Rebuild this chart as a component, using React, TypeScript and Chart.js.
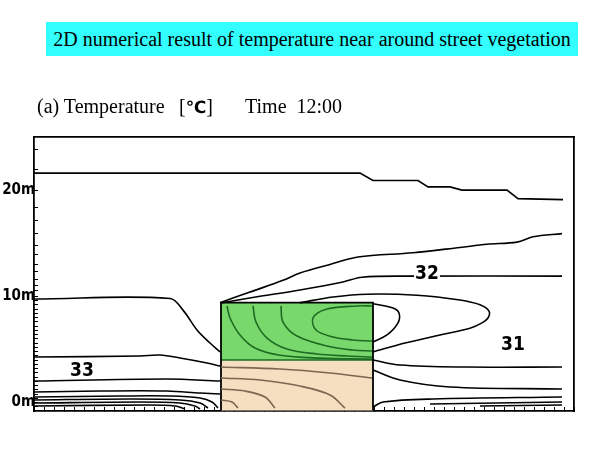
import React, { useEffect, useRef } from 'react';
import { Chart, registerables } from 'chart.js';

Chart.register(...registerables);

// ---- Data (x: distance along street [m], y: height [m]) ----
const contourUpper = [[0, 21.6], [32.6, 21.6], [33.9, 20.9], [38.4, 20.9], [39.4, 20.3], [41.6, 20.3], [42.8, 20.0], [47.3, 20.0], [48.4, 19.2], [52.9, 19.1]];
const contourRising = [[18.6, 9.4], [21.6, 10.4], [24.9, 11.5], [26.6, 12.2], [29.6, 13.0], [32.4, 13.7], [37.9, 14.1], [42.6, 14.6], [45.3, 14.9], [48.3, 15.1], [49.9, 15.6], [52.8, 15.9]];
const contour32 = [[18.8, 9.4], [22.6, 10.0], [26.6, 10.6], [30.9, 11.35], [32.8, 11.8], [37.6, 11.9], [52.8, 11.9]];
const contourOuterLoop = [[26.6, 9.4], [29.9, 9.93], [33.3, 10.2], [38.3, 10.1], [42.6, 9.65], [44.6, 9.2], [45.5, 8.6], [45.4, 7.96], [44.8, 7.5], [43.6, 7.0], [40.6, 6.36], [37.1, 5.6], [33.9, 4.76]];
const contourInnerLoop = [[33.9, 9.3], [35.9, 8.9], [36.5, 8.43], [36.4, 7.5], [35.3, 6.36], [33.9, 5.7]];
const contourRight1 = [[33.9, 4.0], [36.6, 3.53], [43.3, 3.34], [52.8, 3.34]];
const contourRight2 = [[33.9, 3.06], [36.6, 2.12], [41.6, 1.46], [52.8, 1.27]];
const contourRight3 = [[33.9, -0.42], [34.9, 0.05], [39.9, 0.33], [52.8, 0.52]];
const contourRight4 = [[39.6, -0.14], [52.8, 0.05]];
const contourRight5 = [[44.6, -0.33], [52.8, -0.24]];
const contourLeft1 = [[0, 9.75], [13.6, 9.8], [14.9, 8.7], [16.3, 6.83], [17.6, 5.6], [18.6, 4.76]];
const contourLeft2 = [[0, 4.28], [10.6, 4.38], [12.6, 4.47], [14.6, 4.19], [17.3, 3.72], [18.6, 3.43]];
const contourLeft3 = [[0, 2.02], [13.3, 2.21], [18.6, 2.02]];
const contourLeft4 = [[0, 0.99], [6.6, 1.08], [13.3, 1.08], [16.6, 0.89], [18.6, 0.8]];
const contourLeft5 = [[0, 0.52], [8.6, 0.61], [13.6, 0.61], [16.6, 0.42], [17.8, 0.05], [18.4, -0.52]];
const contourLeft6 = [[0, 0.24], [9.6, 0.33], [14.6, 0.24], [16.6, -0.05], [17.4, -0.52]];
const contourLeft7 = [[0, -0.05], [10.6, 0.05], [14.6, -0.05], [16.1, -0.33], [16.6, -0.6]];
const contourLeft8 = [[0, -0.33], [11.6, -0.24], [14.1, -0.33], [15.1, -0.6]];

const canopyA = [[19.3, 9.09], [19.6, 7.96], [20.6, 6.36], [22.1, 5.13], [24.6, 4.45], [28.6, 4.18], [33.8, 4.08]];
const canopyB = [[21.9, 9.09], [22.2, 7.58], [23.3, 6.07], [25.3, 5.04], [28.3, 4.57], [31.3, 4.38], [33.8, 4.28]];
const canopyC = [[24.7, 9.09], [24.9, 7.58], [26.3, 6.26], [29.3, 5.32], [31.9, 4.94], [33.8, 4.85]];
const canopyD = [[33.8, 9.09], [32.3, 9.09], [29.3, 8.8], [27.9, 7.96], [28.2, 6.83], [29.9, 6.17], [31.9, 5.89], [33.8, 5.79]];

const soil1 = [[18.7, 3.34], [24.6, 3.15], [29.6, 2.78], [33.8, 2.31]];
const soil2 = [[18.7, 2.31], [22.6, 2.12], [26.6, 1.55], [29.6, 0.71], [31.1, -0.52]];
const soil3 = [[18.7, 1.27], [21.1, 1.08], [23.1, 0.52], [24.1, -0.52]];
const soil4 = [[18.7, 0.24], [19.8, 0.05], [20.4, -0.52]];

const canopyLeft = 18.7;
const canopyRight = 33.9;
const canopyTop = 9.4;
const canopyBase = 4.0;
const groundLevel = -0.75;

const isothermLabels = ['33', '32', '31'];
const isothermLabelX = [4.8, 39.3, 47.9];
const isothermLabelY = [2.97, 12.1, 5.41];

const yTickValues = [23.8, 21.9, 20, 18.4, 17.1, 15.9, 14.8, 13.9, 13.0, 12.3, 11.6, 11.0, 10.5, 10, 9.6, 9.2, 8.8, 8.4, 8.0, 7.6, 7.2, 6.8, 6.4, 6.0, 5.6, 5.2, 4.8, 4.4, 4.0, 3.6, 3.2, 2.8, 2.4, 2.0, 1.6, 1.2, 0.8, 0.4, 0, -0.4];
const yLabelValues = [0, 10, 20];

const blackContours = [contourUpper, contourRising, contour32, contourOuterLoop, contourInnerLoop, contourRight1, contourRight2, contourRight3, contourRight4, contourRight5, contourLeft1, contourLeft2, contourLeft3, contourLeft4, contourLeft5, contourLeft6, contourLeft7, contourLeft8];
const greenContours = [canopyA, canopyB, canopyC, canopyD];
const soilContours = [soil1, soil2, soil3, soil4];

const toPts = (arr: number[][]) => arr.map(([x, y]) => ({ x, y }));

const labelPlugin = {
  id: 'isothermLabels',
  afterDatasetsDraw(chart: any) {
    const { ctx, scales } = chart;
    const xs = scales.x;
    const ys = scales.y;
    ctx.save();
    ctx.font = 'bold 19px "DejaVu Sans Condensed", "Liberation Sans Narrow", sans-serif';
    ctx.textAlign = 'center';
    ctx.textBaseline = 'middle';
    isothermLabels.forEach((t, i) => {
      const px = xs.getPixelForValue(isothermLabelX[i]);
      const py = ys.getPixelForValue(isothermLabelY[i]);
      const w = ctx.measureText(t).width;
      ctx.fillStyle = '#fff';
      ctx.fillRect(px - w / 2 - 1, py - 7, w + 2, 14);
      ctx.fillStyle = '#000';
      ctx.fillText(t, px, py);
    });
    ctx.restore();
  },
};

export default function App() {
  const ref = useRef<HTMLCanvasElement | null>(null);
  useEffect(() => {
    if (!ref.current) return;
    const lineDs = (arr: number[][], color: string, tension = 0.35) => ({
      data: toPts(arr),
      showLine: true,
      borderColor: color,
      borderWidth: 1.6,
      pointRadius: 0,
      tension,
      fill: false,
      order: 0,
    });
    const datasets: any[] = [
      ...blackContours.map((c, i) => lineDs(c, '#000', i === 0 ? 0 : 0.35)),
      ...greenContours.map((c) => lineDs(c, '#1d6b22')),
      ...soilContours.map((c) => lineDs(c, '#7d6550')),
      {
        data: toPts([[canopyLeft, groundLevel], [canopyLeft, canopyTop], [canopyRight, canopyTop], [canopyRight, groundLevel]]),
        showLine: true, borderColor: '#000', borderWidth: 1.8, pointRadius: 0, fill: false, order: 1,
      },
      {
        data: toPts([[canopyLeft, canopyBase], [canopyRight, canopyBase]]),
        showLine: true, borderColor: '#1d6b22', borderWidth: 1.6, pointRadius: 0,
        backgroundColor: '#f5dfc1', fill: { value: groundLevel }, order: 5,
      },
      {
        data: toPts([[canopyLeft, canopyTop], [canopyRight, canopyTop]]),
        showLine: true, borderColor: 'rgba(0,0,0,0)', borderWidth: 0, pointRadius: 0,
        backgroundColor: '#78d86c', fill: { value: canopyBase }, order: 6,
      },
    ];
    const axisBorder = { display: true, color: '#000', width: 1.8 };
    const chart = new Chart(ref.current, {
      type: 'scatter',
      data: { datasets },
      plugins: [labelPlugin],
      options: {
        responsive: false,
        animation: false,
        layout: { padding: { left: 0, right: 26, top: 137, bottom: 39 } },
        plugins: { legend: { display: false }, tooltip: { enabled: false } },
        scales: {
          x: {
            type: 'linear', position: 'bottom', min: 0, max: 54,
            afterFit: (s: any) => { s.height = 0; },
            ticks: { display: false, stepSize: 1 },
            grid: { drawOnChartArea: false, tickLength: -4, color: '#000', lineWidth: 1 },
            border: axisBorder,
          },
          y: {
            type: 'linear', position: 'left', min: -0.8, max: 25,
            afterBuildTicks: (s: any) => { s.ticks = yTickValues.map((v) => ({ value: v })); },
            afterFit: (s: any) => { s.width = 34; },
            ticks: {
              autoSkip: false, padding: 3, color: '#000',
              font: { family: '"DejaVu Sans Condensed", "Liberation Sans Narrow", sans-serif', size: 15, weight: 'bold' },
              callback: (v: any) => (yLabelValues.includes(Number(v)) ? `${v}m` : ''),
            },
            grid: { drawOnChartArea: false, tickLength: -4, color: '#000', lineWidth: 1 },
            border: axisBorder,
          },
          x2: {
            type: 'linear', position: 'top', min: 0, max: 54,
            afterFit: (s: any) => { s.height = 0; },
            ticks: { display: false },
            grid: { display: false },
            border: axisBorder,
          },
          y2: {
            type: 'linear', position: 'right', min: -0.8, max: 25,
            afterFit: (s: any) => { s.width = 0; },
            ticks: { display: false },
            grid: { display: false },
            border: axisBorder,
          },
        },
      } as any,
    });
    return () => chart.destroy();
  }, []);

  const serif = '"Liberation Serif", "Times New Roman", serif';
  return (
    <div style={{ position: 'absolute', left: 0, top: 0, width: 600, height: 450, background: '#fff', overflow: 'hidden' }}>
      <canvas ref={ref} width={600} height={450} style={{ position: 'absolute', left: 0, top: 0 }} />
      <div style={{ position: 'absolute', left: 46, top: 22, width: 532, height: 34, background: '#33ffff', fontFamily: serif, fontSize: 20, lineHeight: '34px', textAlign: 'center', color: '#000', whiteSpace: 'nowrap' }}>
        2D numerical result of temperature near around street vegetation
      </div>
      <div style={{ position: 'absolute', left: 37, top: 95, fontFamily: serif, fontSize: 20, lineHeight: '22px', color: '#000', whiteSpace: 'pre' }}>(a) Temperature</div>
      <div style={{ position: 'absolute', left: 179, top: 95, fontFamily: serif, fontSize: 20, lineHeight: '22px', color: '#000', whiteSpace: 'pre' }}>
        [<span style={{ fontFamily: '"DejaVu Sans", sans-serif', fontSize: 17, fontWeight: 'bold' }}>℃</span>]
      </div>
      <div style={{ position: 'absolute', left: 245, top: 95, fontFamily: serif, fontSize: 20, lineHeight: '22px', color: '#000', whiteSpace: 'pre' }}>Time  12:00</div>
    </div>
  );
}
